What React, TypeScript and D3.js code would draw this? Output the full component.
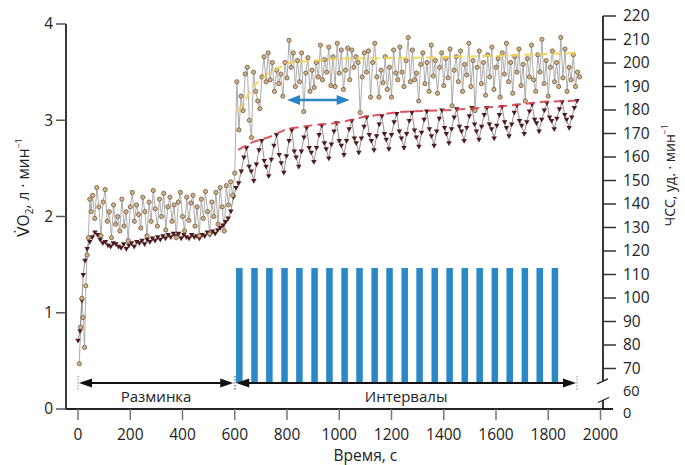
import * as d3 from 'd3'

const width = 685,
      height = 465,
      axisLeftX = 66,
      axisRightX = 603,
      font = '"Open Sans", "DejaVu Sans", sans-serif'

// ticks
const timeTicks = [0, 200, 400, 600, 800, 1000, 1200, 1400, 1600, 1800, 2000]
const vo2Ticks = [0, 1, 2, 3, 4]
const hrTicks = [70, 80, 90, 100, 110, 120, 130, 140, 150, 160, 170, 180, 190, 200, 210, 220]

// VO2 (л/мин), breath values, warm-up then intervals
const vo2Warmup: [number, number][] = [
  [5, 0.47], [10, 0.85], [15, 1.15], [20, 0.95], [25, 0.64], [30, 1.28], [35, 1.6], [40, 1.78], [45, 2.18], [50, 2.05],
  [56, 2.22], [64, 1.98], [72, 2.3], [80, 2.1], [88, 1.8], [96, 2.15], [104, 2.28], [112, 1.95], [120, 2.05], [128, 1.78],
  [136, 2.12], [144, 1.92], [152, 2.0], [160, 1.85], [168, 2.18], [176, 1.9], [184, 2.05], [192, 1.75], [200, 2.1], [208, 2.25],
  [216, 1.95], [224, 2.12], [232, 2.02], [240, 1.88], [248, 2.2], [256, 2.05], [264, 1.8], [272, 2.15], [280, 1.95], [288, 2.27],
  [296, 2.08], [304, 1.9], [312, 2.18], [320, 2.0], [328, 2.24], [336, 1.86], [344, 2.1], [352, 2.2], [360, 1.95], [368, 2.12],
  [376, 1.78], [384, 2.15], [392, 2.25], [400, 2.0], [408, 1.85], [416, 2.2], [424, 1.96], [432, 2.14], [440, 2.22], [448, 1.9],
  [456, 2.1], [464, 1.8], [472, 2.18], [480, 1.98], [488, 2.26], [496, 2.05], [504, 1.82], [512, 2.15], [520, 2.0], [528, 2.25],
  [536, 1.92], [544, 2.3], [552, 2.1], [560, 1.85], [568, 2.32], [576, 2.12], [584, 2.36], [592, 2.22], [600, 2.45]
]
const vo2Intervals: [number, number][] = [
  [608, 3.4], [616, 2.9], [624, 3.25], [632, 3.1], [640, 3.48], [648, 3.55], [656, 3.0], [664, 2.82], [672, 3.5], [680, 3.3],
  [688, 3.2], [696, 3.12], [704, 3.45], [712, 3.66], [720, 3.4], [728, 3.7], [736, 3.42], [744, 3.6], [752, 3.3], [760, 3.52],
  [768, 3.38], [776, 3.48], [784, 3.25], [792, 3.6], [800, 3.44], [808, 3.83], [816, 3.55], [824, 3.7], [832, 3.35], [840, 3.62],
  [848, 3.4], [856, 3.7], [864, 3.09], [872, 3.49], [880, 3.65], [888, 3.3], [896, 3.52], [904, 3.34], [912, 3.6], [920, 3.45],
  [928, 3.78], [936, 3.42], [944, 3.63], [952, 3.5], [960, 3.76], [968, 3.36], [976, 3.66], [984, 3.35], [992, 3.8], [1000, 3.49],
  [1008, 3.73], [1016, 3.32], [1024, 3.52], [1032, 3.75], [1040, 3.42], [1048, 3.73], [1056, 3.55], [1064, 3.66], [1072, 3.6], [1080, 3.08],
  [1088, 3.45], [1096, 3.7], [1104, 3.5], [1112, 3.72], [1120, 3.24], [1128, 3.6], [1136, 3.8], [1144, 3.45], [1152, 3.24], [1160, 3.52],
  [1168, 3.39], [1176, 3.66], [1184, 3.32], [1192, 3.55], [1200, 3.24], [1208, 3.73], [1216, 3.49], [1224, 3.42], [1232, 3.76], [1240, 3.5],
  [1248, 3.35], [1256, 3.62], [1264, 3.86], [1272, 3.4], [1280, 3.73], [1288, 3.42], [1296, 3.49], [1304, 3.2], [1312, 3.58], [1320, 3.7],
  [1328, 3.38], [1336, 3.6], [1344, 3.3], [1352, 3.78], [1360, 3.46], [1368, 3.62], [1376, 3.28], [1384, 3.55], [1392, 3.7], [1400, 3.36],
  [1408, 3.64], [1416, 3.44], [1424, 3.74], [1432, 3.15], [1440, 3.52], [1448, 3.66], [1456, 3.4], [1464, 3.72], [1472, 3.3], [1480, 3.58],
  [1488, 3.47], [1496, 3.8], [1504, 3.35], [1512, 3.62], [1520, 3.1], [1528, 3.55], [1536, 3.72], [1544, 3.38], [1552, 3.6], [1560, 3.26],
  [1568, 3.68], [1576, 3.45], [1584, 3.76], [1592, 3.32], [1600, 3.55], [1608, 3.64], [1616, 3.24], [1624, 3.7], [1632, 3.48], [1640, 3.8],
  [1648, 3.4], [1656, 3.6], [1664, 3.28], [1672, 3.66], [1680, 3.5], [1688, 3.74], [1696, 3.36], [1704, 3.58], [1712, 3.2], [1720, 3.64],
  [1728, 3.45], [1736, 3.78], [1744, 3.42], [1752, 3.3], [1760, 3.68], [1768, 3.5], [1776, 3.84], [1784, 3.38], [1792, 3.62], [1800, 3.25],
  [1808, 3.55], [1816, 3.72], [1824, 3.4], [1832, 3.6], [1840, 3.35], [1848, 3.86], [1856, 3.44], [1864, 3.74], [1872, 3.3], [1880, 3.55],
  [1888, 3.42], [1896, 3.68], [1904, 3.35], [1912, 3.5], [1920, 3.45]
]

// ЧСС (уд/мин)
const hrWarmup: [number, number][] = [
  [0, 82], [8, 86], [15, 99], [20, 110], [27, 116], [35, 121], [45, 124], [55, 126], [65, 128], [75, 127],
  [85, 125], [95, 123.5], [105, 124], [115, 122.5], [125, 122], [135, 123.5], [145, 123], [155, 122], [165, 121.5], [175, 123],
  [185, 121], [195, 122.5], [205, 123.5], [215, 122], [225, 124], [235, 123.5], [245, 124.5], [255, 123], [265, 125], [275, 124],
  [285, 125.5], [295, 124.5], [305, 126], [315, 125], [325, 126.5], [335, 125.5], [345, 127], [355, 126], [365, 127.5], [375, 126.5],
  [385, 127.5], [395, 125.5], [405, 127], [415, 126], [425, 125.5], [435, 127], [445, 126], [455, 126.5], [465, 125.5], [475, 127],
  [485, 126.5], [495, 128], [505, 127], [515, 128.5], [525, 127.5], [535, 129], [545, 130], [555, 131], [565, 132.5], [575, 134],
  [585, 137], [595, 143]
]
const hrIntervals: [number, number][] = [
  [605, 147], [615, 149], [625, 154], [635, 160], [645, 164], [655, 156],
  [663, 154], [673, 150], [683, 157], [693, 163], [703, 167], [713, 158.5],
  [720, 156], [730, 152], [740, 159], [750, 165], [760, 169.5], [770, 161],
  [778, 157.5], [788, 153.5], [798, 160.5], [808, 167], [818, 171.5], [828, 162.5],
  [835, 160], [845, 156], [855, 162.5], [865, 168.5], [875, 172.5], [885, 164],
  [893, 162], [903, 158], [913, 164], [923, 169.5], [933, 173.5], [943, 166],
  [950, 163.5], [960, 159.5], [970, 165.5], [980, 171], [990, 174.5], [1000, 167],
  [1008, 165], [1018, 161], [1028, 167], [1038, 172], [1048, 175.5], [1058, 168],
  [1065, 166], [1075, 162], [1085, 168], [1095, 173], [1105, 177], [1115, 169.5],
  [1123, 167], [1133, 163], [1143, 169], [1153, 174], [1163, 177.5], [1173, 170],
  [1180, 167.5], [1190, 163.5], [1200, 169.5], [1210, 175], [1220, 178.5], [1230, 171],
  [1238, 168], [1248, 164], [1258, 170], [1268, 175.5], [1278, 179], [1288, 171.5],
  [1295, 168.5], [1305, 164.5], [1315, 170.5], [1325, 176], [1335, 179.5], [1345, 172],
  [1353, 169], [1363, 165], [1373, 171], [1383, 176.5], [1393, 180], [1403, 172.5],
  [1410, 170], [1420, 166], [1430, 172], [1440, 177], [1450, 180.5], [1460, 173],
  [1468, 171], [1478, 167], [1488, 172.5], [1498, 177.5], [1508, 181], [1518, 174],
  [1525, 171], [1535, 167.5], [1545, 173], [1555, 178], [1565, 181], [1575, 174],
  [1583, 172], [1593, 168], [1603, 173.5], [1613, 178], [1623, 181.5], [1633, 175],
  [1640, 172.5], [1650, 169], [1660, 174], [1670, 179], [1680, 182], [1690, 175.5],
  [1698, 173.5], [1708, 170], [1718, 175], [1728, 179.5], [1738, 182.5], [1748, 176],
  [1755, 174.5], [1765, 171], [1775, 176], [1785, 180], [1795, 183], [1805, 177],
  [1813, 175.5], [1823, 172], [1833, 176.5], [1843, 180.5], [1853, 183.5], [1863, 178],
  [1870, 176], [1880, 172.5], [1890, 177], [1900, 181], [1910, 184]
]

// dashed guides: VO2 plateau (yellow) and HR peaks (red)
const vo2Plateau: [number, number][] = [
  [613, 3.09], [670, 3.35], [735, 3.5], [812, 3.6], [1000, 3.64], [1300, 3.65], [1600, 3.67], [1912, 3.7]
]
const hrPeaks: [number, number][] = [
  [613, 163], [670, 166.4], [735, 168.6], [800, 172], [900, 173.5], [992, 174.5], [1092, 177], [1234, 179.2],
  [1425, 180], [1617, 181.5], [1782, 183.5], [1912, 184]
]

// work bouts (start, s) and their duration
const workStarts = [605, 663, 720, 778, 835, 893, 950, 1008, 1065, 1123, 1180, 1238, 1295, 1353, 1410, 1468, 1525, 1583, 1640, 1698, 1755, 1813]
const workDuration = 25
const workTop = 1.465
const phaseLevel = 0.27

const phases = [
  { label: 'Разминка', from: 0, to: 598 },
  { label: 'Интервалы', from: 602, to: 1910 }
]
const spanArrow = { from: 800, to: 1040, vo2: 3.21 }

const x = d3.scaleLinear().domain([0, 2000]).range([78, 600.5])
const yL = d3.scaleLinear().domain([0, 4]).range([409, 24])
const yR = d3.scaleLinear().domain([60, 220]).range([392, 16])

const vo2Line = d3.line<[number, number]>().x(d => x(d[0])).y(d => yL(d[1]))
const hrLine = d3.line<[number, number]>().x(d => x(d[0])).y(d => yR(d[1]))
const tri = d3.symbol(d3.symbolTriangle, 13)()

const DoubleArrow = ({ x1, x2, y, color, len, half, sw }:
  { x1: number, x2: number, y: number, color: string, len: number, half: number, sw: number }) =>
  <g>
    <line x1={x1 + len - 1} x2={x2 - len + 1} y1={y} y2={y} stroke={color} strokeWidth={sw} />
    <polygon points={`${x1},${y} ${x1 + len},${y - half} ${x1 + len},${y + half}`} fill={color} />
    <polygon points={`${x2},${y} ${x2 - len},${y - half} ${x2 - len},${y + half}`} fill={color} />
  </g>

export default function App() {
  const vo2 = [...vo2Warmup, ...vo2Intervals]
  const hr = [...hrWarmup, ...hrIntervals]
  const y0 = yL(0)
  const arrowY = yL(phaseLevel)
  const breakY = yR(64.5)

  return (
    <svg width={width} height={height} style={{ position: 'absolute', left: 0, top: 0, background: '#fff' }}
      fontFamily={font}>

      {/* work bouts */}
      <g className='bouts'>
        {workStarts.map((s, i) =>
          <rect key={i} x={x(s)} width={x(s + workDuration) - x(s)} y={yL(workTop)} height={arrowY - yL(workTop)}
            fill='#2a88c6' />
        )}
      </g>

      {/* series */}
      <path d={vo2Line(vo2) || ''} fill='none' stroke='#a3a3a3' strokeWidth='0.9' />
      <path d={hrLine(hr) || ''} fill='none' stroke='#8f8282' strokeWidth='0.9' />
      {hr.map((d, i) =>
        <path key={'h' + i} d={tri || ''} transform={`translate(${x(d[0])},${yR(d[1])}) rotate(180)`} fill='#4e1a1c' />
      )}
      {vo2.map((d, i) =>
        <circle key={'v' + i} cx={x(d[0])} cy={yL(d[1])} r='2.1' fill='#d2b388' stroke='#6e5337' strokeWidth='0.8' />
      )}

      <path d={vo2Line(vo2Plateau) || ''} fill='none' stroke='#f3d24c' strokeWidth='2' strokeDasharray='9,5' opacity='0.9' />
      <path d={hrLine(hrPeaks) || ''} fill='none' stroke='#d9434c' strokeWidth='2' strokeDasharray='9,5' opacity='0.9' />

      <DoubleArrow x1={x(spanArrow.from)} x2={x(spanArrow.to)} y={yL(spanArrow.vo2)} color='#2a86c3' len={13} half={5} sw={2.4} />

      {/* phases */}
      {phases.map((p, i) =>
        <g key={i}>
          <DoubleArrow x1={x(p.from) + 1} x2={x(p.to) - 1} y={arrowY} color='#111' len={13} half={4.5} sw={2} />
          <line x1={x(p.from)} x2={x(p.from)} y1={arrowY - 7} y2={arrowY + 7} stroke='#888' strokeDasharray='1.5,1.5' />
          <line x1={x(p.to)} x2={x(p.to)} y1={arrowY - 7} y2={arrowY + 7} stroke='#888' strokeDasharray='1.5,1.5' />
          <text x={x((p.from + p.to) / 2)} y={arrowY + 19} textAnchor='middle' fontSize='15' fill='#222'>{p.label}</text>
        </g>
      )}

      {/* left axis */}
      <line x1={axisLeftX} x2={axisLeftX} y1={yL(4)} y2={y0} stroke='#222' strokeWidth='1.8' />
      {vo2Ticks.map(t =>
        <g key={t}>
          <line x1={axisLeftX - 10} x2={axisLeftX} y1={yL(t)} y2={yL(t)} stroke='#555' strokeWidth='1.5' />
          <text x={axisLeftX - 13} y={yL(t)} dy='0.35em' textAnchor='end' fontSize='15.5' fill='#222'>{t}</text>
        </g>
      )}
      <text transform={`translate(29,${yL(2.3)}) rotate(-90)`} textAnchor='middle' fontSize='15.5' fill='#222'>
        <tspan fontFamily='"DejaVu Sans"'>V&#775;</tspan>O<tspan dy='4' fontSize='10'>2</tspan><tspan dy='-4'>, л · мин</tspan><tspan dy='-7' fontSize='9'>−1</tspan>
      </text>

      {/* bottom axis */}
      <line x1={axisLeftX} x2={axisRightX + 10} y1={y0} y2={y0} stroke='#222' strokeWidth='1.8' />
      {timeTicks.map(t =>
        <g key={t}>
          <line x1={x(t)} x2={x(t)} y1={y0} y2={y0 + 11} stroke='#777' strokeWidth='1.5' />
          <text x={x(t)} y={y0 + 31} textAnchor='middle' fontSize='15.5' fill='#222'>{t}</text>
        </g>
      )}
      <text x={x(1100)} y={y0 + 52} textAnchor='middle' fontSize='15.5' fill='#222'>Время, с</text>

      {/* right axis (broken) */}
      <line x1={axisRightX} x2={axisRightX} y1={yR(220)} y2={breakY} stroke='#222' strokeWidth='1.8' />
      <line x1={axisRightX - 6} x2={axisRightX + 5} y1={breakY + 2.5} y2={breakY - 2.5} stroke='#222' strokeWidth='1.3' />
      <line x1={axisRightX} x2={axisRightX} y1={y0 - 9} y2={y0} stroke='#222' strokeWidth='1.8' />
      <line x1={axisRightX - 5} x2={axisRightX + 6} y1={y0 - 6.5} y2={y0 - 11.5} stroke='#222' strokeWidth='1.3' />
      {hrTicks.map(t =>
        <g key={t}>
          <line x1={axisRightX} x2={axisRightX + 13} y1={yR(t)} y2={yR(t)} stroke='#333' strokeWidth='1.5' />
          <text x={axisRightX + 20} y={yR(t)} dy='0.35em' fontSize='15.5' fill='#222'>{t}</text>
        </g>
      )}
      <text x={axisRightX + 20} y={yR(60) - 1} dy='0.35em' fontSize='14.5' fill='#222'>60</text>
      <text x={axisRightX + 20} y={y0 + 4} dy='0.35em' fontSize='14.5' fill='#222'>0</text>
      <text transform={`translate(675,${yR(150) - 5}) rotate(-90)`} textAnchor='middle' fontSize='14' fill='#222'>
        ЧСС, уд. · мин<tspan dy='-7' fontSize='8.5'>−1</tspan>
      </text>
    </svg>
  )
}
